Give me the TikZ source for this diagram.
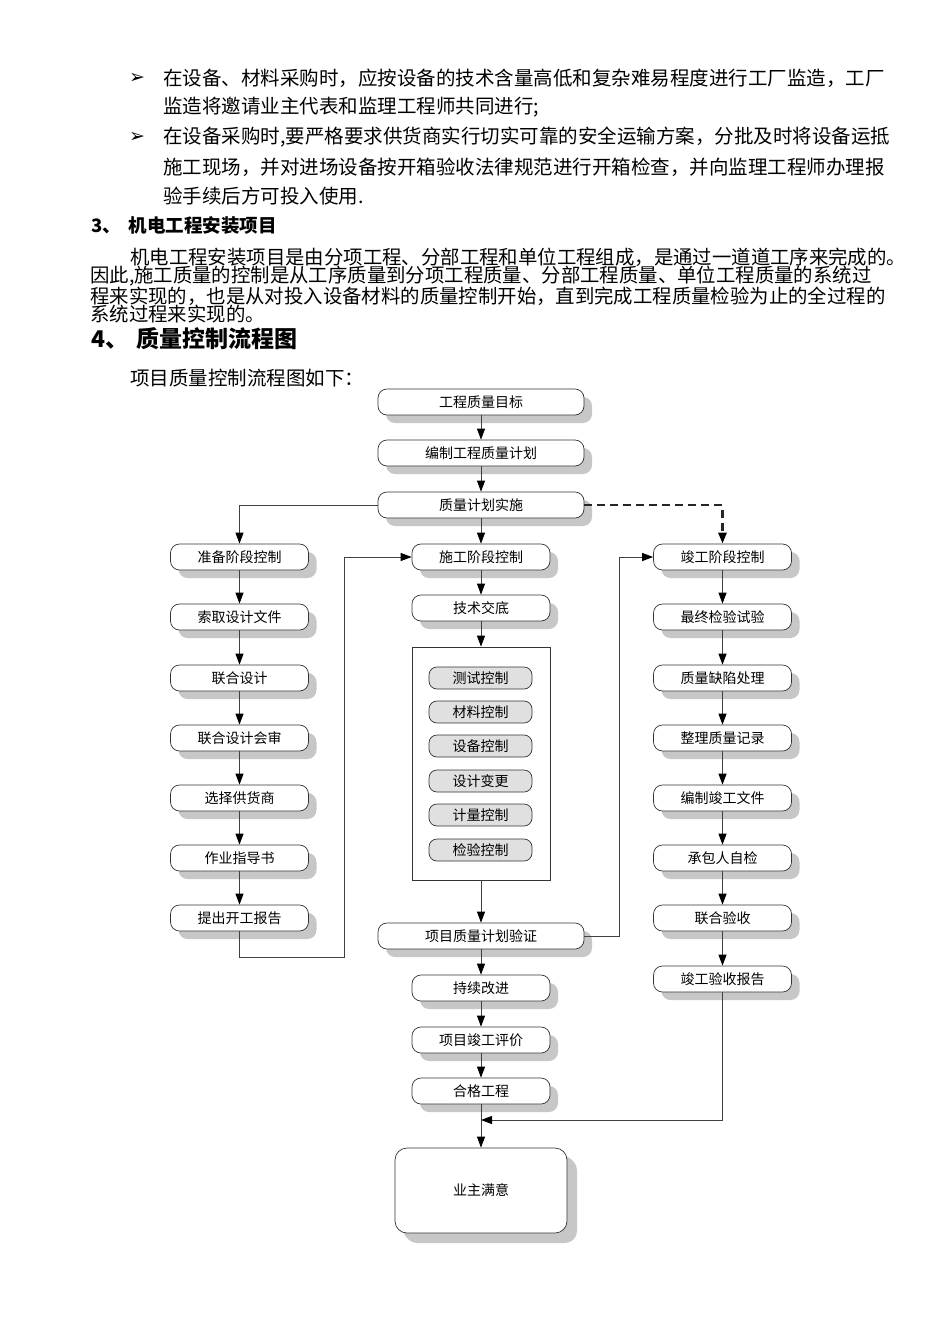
\documentclass[tikz,border=0pt]{standalone}
\usepackage{fontspec}
\setmainfont{Noto Sans CJK SC}
\newfontfamily\cjk{Noto Sans CJK SC}
\newfontfamily\dv{DejaVu Sans}
\usetikzlibrary{shadows,arrows.meta}
\tikzset{
  txt/.style={anchor=west,inner sep=0pt,font=\cjk\fontsize{19.5}{20}\selectfont},
  ptxt/.style={anchor=west,inner sep=0pt,font=\cjk\fontsize{19.4}{20}\selectfont},
  bul/.style={anchor=west,inner sep=0pt,font=\dv\bfseries\fontsize{19}{20}\selectfont},
  boxbase/.style={draw=black!80,line width=0.7pt,fill=white,rounded corners=9pt,
    minimum height=26pt,inner sep=0pt,font=\cjk\fontsize{14}{14}\selectfont,
    drop shadow={shadow xshift=8pt,shadow yshift=-8pt,fill=black!22,opacity=1}},
  wbox/.style={boxbase,minimum width=206pt},
  mbox/.style={boxbase,minimum width=138pt},
  ibox/.style={draw=black!80,line width=0.7pt,fill=black!12,rounded corners=8pt,
    minimum width=103pt,minimum height=22pt,inner sep=0pt,font=\cjk\fontsize{14}{14}\selectfont},
  tip/.style={-{Triangle[length=11pt,width=8pt,color=black]}},
  conn/.style={draw=black!75,line width=0.9pt,tip},
}
\begin{document}
\begin{tikzpicture}[x=1pt,y=-1pt]
\useasboundingbox[fill=white] (0,0) rectangle (950,1344);

% ---------- text ----------
\node[bul] (b1) at (129,78) {➢};
\node[txt] (t1) at (163,78) {在设备、材料采购时，应按设备的技术含量高低和复杂难易程度进行工厂监造，工厂};
\node[txt] (t2) at (163,107) {监造将邀请业主代表和监理工程师共同进行;};
\node[bul] (b2) at (129,137) {➢};
\node[txt] (t3) at (163,137) {在设备采购时,要严格要求供货商实行切实可靠的安全运输方案，分批及时将设备运抵};
\node[txt] (t4) at (163,167) {施工现场，并对进场设备按开箱验收法律规范进行开箱检查，并向监理工程师办理报};
\node[txt] (t5) at (163,196) {验手续后方可投入使用.};

\node[anchor=west,inner sep=0pt,font=\cjk\bfseries\fontsize{18.5}{19}\selectfont] (h3) at (91,226) {3、\hspace{8pt}机电工程安装项目};

\node[ptxt] (p1) at (130,257) {机电工程安装项目是由分项工程、分部工程和单位工程组成，是通过一道道工序来完成的。};
\node[ptxt] (p2) at (90,276) {因此,施工质量的控制是从工序质量到分项工程质量、分部工程质量、单位工程质量的系统过};
\node[ptxt] (p3) at (90,296) {程来实现的，也是从对投入设备材料的质量控制开始，直到完成工程质量检验为止的全过程的};
\node[ptxt] (p4) at (90,314) {系统过程来实现的。};

\node[anchor=west,inner sep=0pt,font=\cjk\bfseries\fontsize{23}{24}\selectfont] (h4) at (91,339) {4、\hspace{8pt}质量控制流程图};
\node[txt] (p5) at (130,378) {项目质量控制流程图如下：};

% ---------- flowchart ----------
\node[wbox] (n1) at (481,402) {工程质量目标};
\node[wbox] (n2) at (481,453) {编制工程质量计划};
\node[wbox] (n3) at (481,505) {质量计划实施};

\node[mbox] (l1) at (239.5,557) {准备阶段控制};
\node[mbox] (l2) at (239.5,617) {索取设计文件};
\node[mbox] (l3) at (239.5,678) {联合设计};
\node[mbox] (l4) at (239.5,738) {联合设计会审};
\node[mbox] (l5) at (239.5,798) {选择供货商};
\node[mbox] (l6) at (239.5,858) {作业指导书};
\node[mbox] (l7) at (239.5,918) {提出开工报告};

\node[mbox] (c1) at (481,557) {施工阶段控制};
\node[mbox] (c2) at (481,608) {技术交底};
\node[draw=black!80,line width=0.7pt,fill=white,minimum width=138pt,minimum height=233pt,inner sep=0pt] (grp) at (481,763.5) {};
\node[ibox] (g1) at (480.5,678) {测试控制};
\node[ibox] (g2) at (480.5,712) {材料控制};
\node[ibox] (g3) at (480.5,746) {设备控制};
\node[ibox] (g4) at (480.5,781) {设计变更};
\node[ibox] (g5) at (480.5,815) {计量控制};
\node[ibox] (g6) at (480.5,850) {检验控制};
\node[wbox] (c3) at (481,936) {项目质量计划验证};
\node[mbox] (c4) at (481,988) {持续改进};
\node[mbox] (c5) at (481,1040) {项目竣工评价};
\node[mbox] (c6) at (481,1091) {合格工程};
\node[boxbase,minimum width=172pt,minimum height=85pt,rounded corners=12pt,
  drop shadow={shadow xshift=10pt,shadow yshift=-10pt,fill=black!22,opacity=1}] (end) at (481,1190.5) {业主满意};

\node[mbox] (r1) at (722.5,557) {竣工阶段控制};
\node[mbox] (r2) at (722.5,617) {最终检验试验};
\node[mbox] (r3) at (722.5,678) {质量缺陷处理};
\node[mbox] (r4) at (722.5,738) {整理质量记录};
\node[mbox] (r5) at (722.5,798) {编制竣工文件};
\node[mbox] (r6) at (722.5,858) {承包人自检};
\node[mbox] (r7) at (722.5,918) {联合验收};
\node[mbox] (r8) at (722.5,979) {竣工验收报告};

\coordinate (lb) at (239.5,957);
\coordinate (lc) at (344,957);
\coordinate (rb) at (619,936);
\coordinate (jn) at (481,1120);
\coordinate (jr) at (722.5,1120);

% connectors
\draw[conn] (n1) -- (n2);
\draw[conn] (n2) -- (n3);
\draw[conn] (n3) -- (c1);
\draw[conn] (n3.west) -| (l1.north);
\draw[line width=2.6pt,draw=black!85,dash pattern=on 8pt off 5pt,tip] (n3.east) -| (r1.north);

\draw[conn] (l1) -- (l2);
\draw[conn] (l2) -- (l3);
\draw[conn] (l3) -- (l4);
\draw[conn] (l4) -- (l5);
\draw[conn] (l5) -- (l6);
\draw[conn] (l6) -- (l7);
\draw[conn] (l7.south) -- (lb) -- (lc) |- (c1.west);

\draw[conn] (c1) -- (c2);
\draw[conn] (c2) -- (grp);
\draw[conn] (grp) -- (c3);
\draw[conn] (c3) -- (c4);
\draw[conn] (c4) -- (c5);
\draw[conn] (c5) -- (c6);
\draw[conn] (c6) -- (end);
\draw[conn] (c3.east) -- (rb) |- (r1.west);

\draw[conn] (r1) -- (r2);
\draw[conn] (r2) -- (r3);
\draw[conn] (r3) -- (r4);
\draw[conn] (r4) -- (r5);
\draw[conn] (r5) -- (r6);
\draw[conn] (r6) -- (r7);
\draw[conn] (r7) -- (r8);
\draw[conn] (r8.south) -- (jr) -- (jn);
\end{tikzpicture}
\end{document}
